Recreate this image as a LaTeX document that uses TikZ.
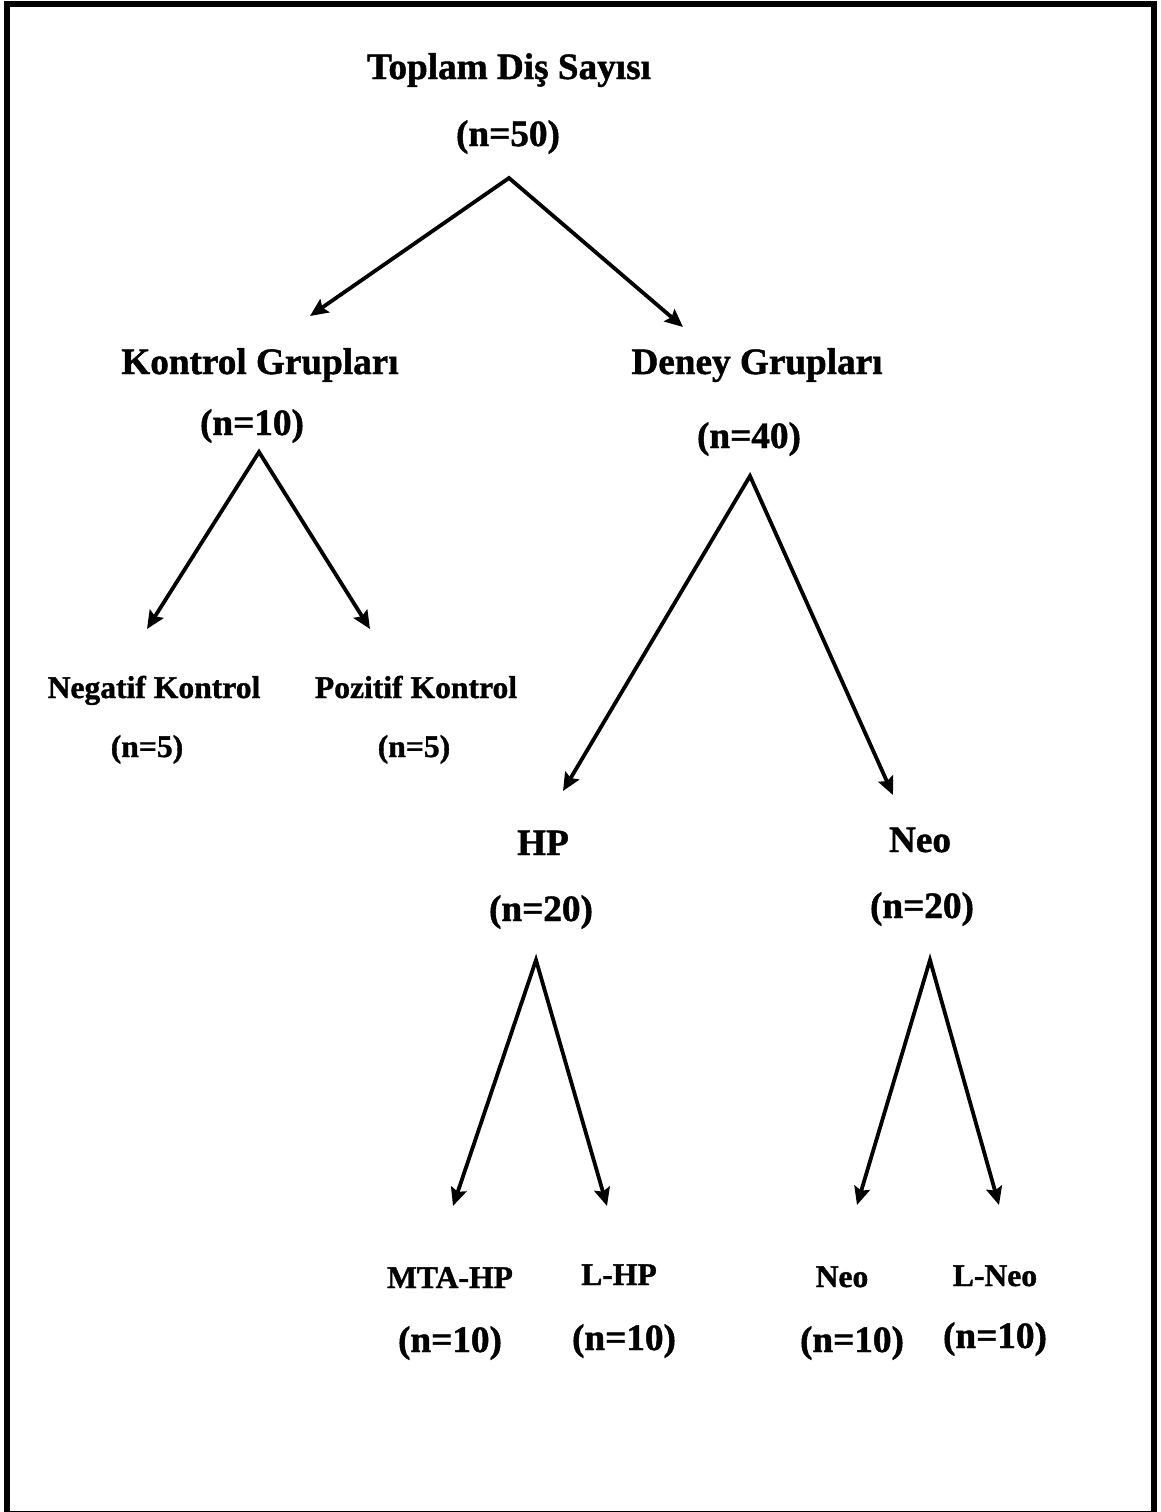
\documentclass[tikz,border=0pt]{standalone}
\usepackage{fontspec}
\setmainfont[BoldFeatures={FakeBold=1.2}]{Liberation Serif}
\usetikzlibrary{arrows.meta}

\begin{document}
\begin{tikzpicture}[x=0.5pt,y=-0.5pt,<->,>={Stealth[length=9pt,width=8pt,inset=1.5pt]},line width=1.9pt]
\tikzstyle{every node}=[inner sep=0pt,anchor=base]
\tikzstyle{big}=[font=\fontsize{18.6}{22}\selectfont\bfseries]
\tikzstyle{small}=[font=\fontsize{15.8}{19}\selectfont\bfseries]

\useasboundingbox (0,0) rectangle (1161,1512);
\draw[-,line width=3pt] (7,4) rectangle (1154,1514);

% top
\node[big] (toplam) at (509,79)  {Toplam Diş Sayısı};
\node[big] (n50)    at (508,146) {(n=50)};

\node[big] (kontrol) at (260,374) {Kontrol Grupları};
\node[big] (n10)     at (252,435) {(n=10)};
\node[big] (deney)   at (757,374) {Deney Grupları};
\node[big] (n40)     at (749,448) {(n=40)};

\node[small] (negatif) at (154,698) {Negatif Kontrol};
\node[small] (nneg)    at (147,757) {(n=5)};
\node[small] (pozitif) at (416,698) {Pozitif Kontrol};
\node[small] (npoz)    at (414,757) {(n=5)};

\node[big] (hp)   at (543,855) {HP};
\node[big] (nhp)  at (541,921) {(n=20)};
\node[big] (neo)  at (920,852) {Neo};
\node[big] (nneo) at (922,918) {(n=20)};

\node[small] (mta)  at (450,1288) {MTA-HP};
\node[big]   (nmta) at (450,1352) {(n=10)};
\node[small] (lhp)  at (619,1285) {L-HP};
\node[big]   (nlhp) at (624,1350) {(n=10)};
\node[small] (neob)  at (842,1287) {Neo};
\node[big]   (nneob) at (852,1352) {(n=10)};
\node[small] (lneo)  at (995,1286) {L-Neo};
\node[big]   (nlneo) at (995,1348) {(n=10)};

% split points and arrow ends
\coordinate (s50)  at (509,178);
\coordinate (e-kontrol) at (310,316);
\coordinate (e-deney)   at (683,327);
\coordinate (s10)  at (259,452);
\coordinate (e-negatif) at (147,629);
\coordinate (e-pozitif) at (370,629);
\coordinate (s40)  at (750,476);
\coordinate (e-hp)  at (563,791);
\coordinate (e-neo) at (893,795);
\coordinate (s20a) at (536,960);
\coordinate (e-mta) at (453,1206);
\coordinate (e-lhp) at (607,1206);
\coordinate (s20b) at (930,960);
\coordinate (e-neob) at (857,1205);
\coordinate (e-lneo) at (999,1205);

\draw (e-kontrol) -- (s50) -- (e-deney);
\draw (e-negatif) -- (s10) -- (e-pozitif);
\draw (e-hp) -- (s40) -- (e-neo);
\draw (e-mta) -- (s20a) -- (e-lhp);
\draw (e-neob) -- (s20b) -- (e-lneo);
\end{tikzpicture}
\end{document}
